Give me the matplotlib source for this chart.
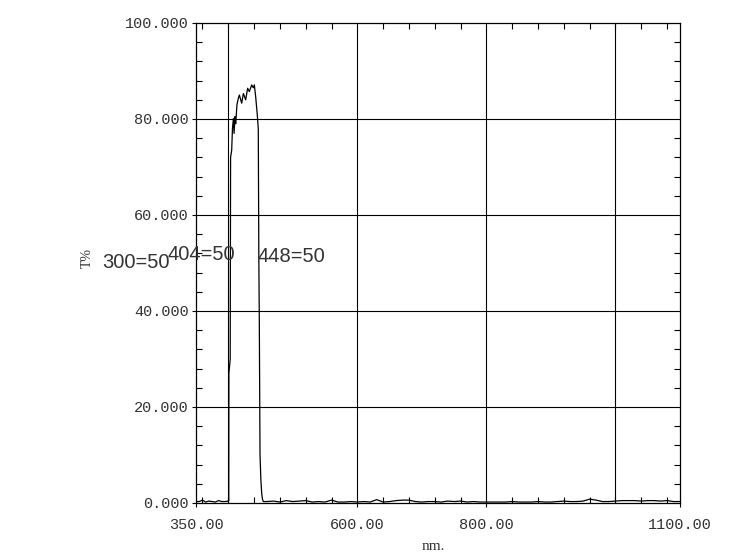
import matplotlib
matplotlib.use("Agg")
import matplotlib.pyplot as plt
import matplotlib.ticker as ticker

# transmission spectrum
wl_low = [350, 355, 360, 365, 370, 375, 380, 385, 390, 395, 400, 400.8]
t_low = [0.3, 0.3, 0.6, 0.2, 0.4, 0.3, 0.2, 0.5, 0.3, 0.3, 0.4, 0.5]

wl_band = [401.0, 403.0, 403.6, 405.3, 406.5, 407.9, 409.0, 410.4, 411.5,
           413.5, 415.6, 417.2, 420.8, 423.4, 427.0, 430.0, 432.6, 436.3,
           438.8, 440.4, 442.5, 445.0, 446.5, 447.4, 448.1, 449.2, 450.5,
           451.8, 453.0, 454.3]
t_band = [27.0, 30.0, 72.0, 73.5, 78.0, 80.1, 77.0, 80.5, 79.0,
          83.0, 84.3, 85.0, 83.3, 85.3, 84.0, 86.4, 85.7, 87.1,
          86.5, 87.1, 84.6, 80.8, 78.0, 50.0, 38.0, 10.0, 5.0,
          2.0, 0.8, 0.3]

wl_high = [460, 470, 480, 490, 500, 510, 520, 530, 540, 550,
           560, 570, 580, 590, 600, 610, 620, 630, 640, 650,
           660, 670, 680, 690, 700, 710, 720, 730, 740, 750,
           760, 770, 780, 790, 800, 810, 820, 830, 840, 850,
           860, 870, 880, 890, 900, 910, 920, 930, 940, 950,
           960, 970, 980, 990, 1000, 1010, 1020, 1030, 1040, 1050,
           1060, 1070, 1080, 1090, 1100]
t_high = [0.3, 0.4, 0.2, 0.5, 0.3, 0.4, 0.5, 0.2, 0.3, 0.2,
          0.6, 0.2, 0.2, 0.3, 0.2, 0.3, 0.2, 0.7, 0.2, 0.3,
          0.5, 0.6, 0.6, 0.3, 0.2, 0.3, 0.3, 0.2, 0.4, 0.3,
          0.4, 0.2, 0.3, 0.2, 0.2, 0.2, 0.2, 0.2, 0.3, 0.2,
          0.2, 0.2, 0.3, 0.2, 0.2, 0.3, 0.4, 0.3, 0.3, 0.4,
          0.8, 0.6, 0.3, 0.3, 0.4, 0.5, 0.5, 0.5, 0.4, 0.5,
          0.5, 0.4, 0.5, 0.3, 0.3]

wl = wl_low + wl_band + wl_high
trans = t_low + t_band + t_high

x_ticks = [350, 600, 800, 1100]
x_tick_labels = ["350.00", "600.00", "800.00", "1100.00"]
y_ticks = [0, 20, 40, 60, 80, 100]
y_tick_labels = ["0.000", "20.000", "40.000", "60.000", "80.000", "100.000"]
x_grid = [400, 600, 800, 1000]
y_grid = [20, 40, 60, 80]

marks = ["300=50", "404=50", "448=50"]

TXT = "#333333"

fig = plt.figure(figsize=(7.5, 5.59), dpi=100)
ax = fig.add_axes([196 / 750, 56 / 559, 484 / 750, 480 / 559])

for xv in x_grid:
    ax.axvline(xv, color="black", linewidth=0.8, zorder=1)
for yv in y_grid:
    ax.axhline(yv, color="black", linewidth=0.8, zorder=1)

ax.plot(wl, trans, color="black", linewidth=0.9, zorder=3)

ax.set_xlim(350, 1100)
ax.set_ylim(0, 100)

ax.set_xticks(x_ticks)
ax.set_xticklabels(x_tick_labels)
ax.set_yticks(y_ticks)
ax.set_yticklabels(y_tick_labels)
ax.xaxis.set_minor_locator(ticker.FixedLocator(list(range(360, 1100, 40))))
ax.yaxis.set_minor_locator(ticker.MultipleLocator(4))

ax.tick_params(which="major", direction="out", length=3, width=0.8,
               labelsize=11, labelcolor=TXT, pad=2)
ax.tick_params(axis="x", which="major", pad=8)
ax.tick_params(which="minor", direction="in", length=4, width=0.8,
               top=True, right=True)
for lab in ax.get_xticklabels() + ax.get_yticklabels():
    lab.set_fontfamily("Liberation Mono")

for sp in ax.spines.values():
    sp.set_linewidth(0.9)

# annotations drawn in pixel positions of the figure
fig.text(102 / 750, 1 - 262 / 559, marks[0], fontsize=14.5, color=TXT,
         family="Liberation Sans", va="center", ha="left")
fig.text(167 / 750, 1 - 254 / 559, marks[1], fontsize=14.5, color=TXT,
         family="Liberation Sans", va="center", ha="left")
fig.text(258 / 750, 1 - 256 / 559, marks[2], fontsize=14.5, color=TXT,
         family="Liberation Sans", va="center", ha="left")

fig.text(87 / 750, 1 - 258 / 559, "T%", fontsize=10, color=TXT,
         family="Liberation Serif", rotation=90, va="center", ha="center")
fig.text(433 / 750, 1 - 546 / 559, "nm.", fontsize=11, color=TXT,
         family="Liberation Serif", va="center", ha="center")

fig.savefig("out.png", dpi=100)
